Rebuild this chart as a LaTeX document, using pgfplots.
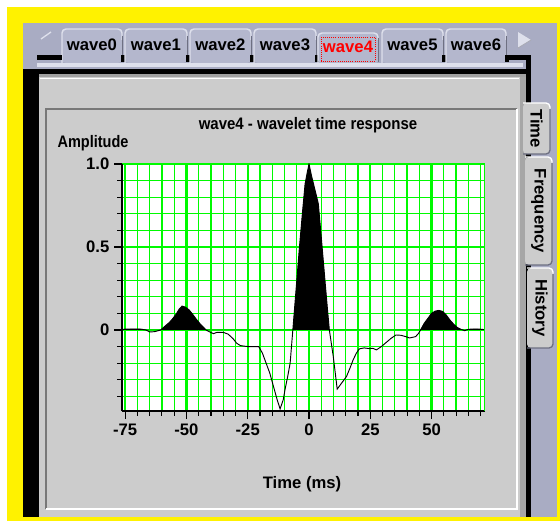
\documentclass[border=0pt]{standalone}
\usepackage{fontspec}
\setmainfont{Liberation Sans}
\usepackage{graphicx}
\usepackage{pgfplots}
\usepackage{pgfplotstable}
\pgfplotsset{compat=1.18}
\definecolor{outerblue}{RGB}{169,172,195}
\definecolor{tabblue}{RGB}{180,183,205}
\definecolor{tablight}{RGB}{222,224,236}
\definecolor{tabdark}{RGB}{110,112,130}
\definecolor{panelgrey}{RGB}{204,204,204}
\definecolor{framedark}{RGB}{120,120,120}
\definecolor{gridgreen}{RGB}{0,250,0}
\newcommand\fnt{\fontsize{12.5pt}{15pt}\selectfont\bfseries}
\newcommand\cond[2]{\scalebox{#1}[1]{#2}}

\pgfplotstableread{
x y
-76.3 0.004
-73 0.006
-69 0.006
-66.5 0.0
-65 -0.012
-63 -0.010
-60.5 0.0
-59 0.02
-57 0.045
-55.5 0.07
-54 0.10
-53 0.125
-51.8 0.144
-50.5 0.138
-49 0.122
-47.5 0.095
-46 0.065
-44.5 0.038
-43 0.015
-42 0.0
-40.5 -0.012
-39 -0.022
-37.5 -0.014
-35 -0.014
-33 -0.025
-31 -0.052
-29.5 -0.08
-28 -0.094
-25 -0.10
-20.5 -0.10
-19 -0.14
-17.5 -0.20
-16 -0.26
-14.5 -0.34
-13 -0.42
-11.8 -0.475
-10.5 -0.42
-9.8 -0.36
-8.7 -0.28
-7.7 -0.20
-6.6 0.0
-5.3 0.24
-3.9 0.50
-2.6 0.72
-1.6 0.88
-0.7 0.95
0 1.0
1 0.93
2 0.87
3 0.81
3.8 0.76
5 0.56
6.5 0.30
7.5 0.13
8.3 0.0
9.9 -0.16
10.8 -0.27
11.5 -0.356
12.3 -0.34
13.3 -0.32
15.3 -0.28
16.7 -0.23
18 -0.18
19.3 -0.14
20.5 -0.114
22.5 -0.108
24.5 -0.112
26 -0.11
27.5 -0.12
29.5 -0.10
31.5 -0.075
33.5 -0.05
35.5 -0.03
37.5 -0.032
39.5 -0.04
41 -0.048
43.5 -0.04
44.7 -0.02
45.5 0.0
47 0.04
48.5 0.07
50 0.10
51.5 0.114
53 0.118
54.5 0.112
56 0.09
57.5 0.06
59 0.035
60.5 0.015
62 0.004
63.5 -0.004
65 0.004
67 0.006
69 0.006
71.8 0.002
}\wave

\newcommand\toptab[3]{%
  \fill[tabblue, rounded corners=3pt] (#1,63) -- (#1,29) -- (#2,29) -- (#2,63) -- cycle;
  \draw[tablight, line width=1.1pt, rounded corners=3pt] (#1,63) -- (#1,29) -- (#2,29) -- (#2,40);
  \draw[tabdark, line width=0.75pt] (#2,36) -- (#2,62);
  \fill[black] (#2-1,55) rectangle (#2+3,62);
  \node[anchor=base, inner sep=0pt] at ({(#1+#2)/2},51) {\fnt #3};
}
\newcommand\sidetab[5]{%
  \fill[panelgrey, rounded corners=3pt] (#1,#3) -- (#2,#3) -- (#2,#4) -- (#1,#4) -- cycle;
  \draw[white, line width=1pt, rounded corners=3pt] (#1,#3) -- (#2,#3) -- (#2,#3+6);
  \draw[tabdark, line width=1pt, rounded corners=3pt] (#2,#3+6) -- (#2,#4) -- (#1,#4);
  \node[rotate=-90, inner sep=0pt] at ({(#1+#2)/2},{(#3+#4)/2}) {\fnt #5};
}

\begin{document}
\begin{tikzpicture}
\begin{scope}[x=0.75pt,y=-0.75pt,shift={(0,-521)}]
  % background and frames
  \fill[white] (0,0) rectangle (560,521);
  \fill[yellow] (7,7) rectangle (560,521);
  \fill[outerblue] (23,23) rectangle (557,517);
  % arrows
  \draw[tablight, line width=1pt] (41,39) -- (51,32);
  \fill[tablight] (518,32) -- (531,40) -- (518,48) -- cycle;
  \draw[tabdark!60, line width=0.6pt] (518,48) -- (531,40);
  % top tabs
  \toptab{62}{122}{wave0}
  \toptab{125}{187}{wave1}
  \toptab{190}{251}{wave2}
  \toptab{254}{316}{wave3}
  % selected tab
  \fill[tabblue, rounded corners=3pt] (318,64) -- (318,33) -- (378,33) -- (378,64) -- cycle;
  \draw[tablight, line width=1.1pt, rounded corners=3pt] (318,63) -- (318,33) -- (378,33) -- (378,40);
  \draw[tabdark, line width=0.75pt] (378,38) -- (378,62);
  \draw[red, densely dotted, line width=0.6pt] (321,37) rectangle (375,61);
  \node[anchor=base, inner sep=0pt] at (348,53) {\fnt\color{red}wave4};
  \toptab{382}{443}{wave5}
  \toptab{446}{506}{wave6}
  % tab baseline
  \fill[tablight] (37,63) rectangle (523,67);
  \fill[black] (37,55) rectangle (62,60);
  \fill[black] (506,55) rectangle (531,60);
  \fill[black] (23,69) rectangle (531,74);
  \fill[black] (526,55) rectangle (531,517);
  % panel
  \fill[black] (23,74) rectangle (39,517);
  \fill[panelgrey] (39,76) rectangle (526,517);
  \fill[framedark!70] (39,74) rectangle (526,77);
  \fill[gray!70] (520,77) rectangle (526,517);
  \draw[white, line width=0.75pt] (40,79) -- (519,79);
  % inner sunken frame
  \draw[framedark, line width=1.5pt] (46,509) -- (46,109) -- (517,109);
  \draw[white, line width=1.5pt] (517,109) -- (517,509) -- (46,509);
  % side tabs
  \sidetab{523}{550}{103}{154}{Time}
  \sidetab{525}{552}{157}{265}{Frequency}
  \sidetab{527}{553}{268}{348}{History}
  % texts
  \node[anchor=base, inner sep=0pt] at (308,130) {\fnt\cond{0.9}{wave4 - wavelet time response}};
  \node[anchor=base, inner sep=0pt] at (93,148) {\fnt\cond{0.87}{Amplitude}};
  \node[anchor=base, inner sep=0pt] at (302,489) {\fnt Time (ms)};
\end{scope}

\begin{axis}[
  at={(91.5pt,82.5pt)}, anchor=south west,
  width=272.25pt, height=185.25pt, scale only axis,
  xmin=-76.3, xmax=71.8, ymin=-0.488, ymax=1.0,
  axis x line*=bottom, axis y line*=left,
  axis line style={black, line width=1.2pt},
  axis background/.style={fill=white},
  xtick={-75,-50,-25,0,25,50},
  xticklabels={-75,-50,-25,0,25,50},
  minor xtick={-70,-65,-60,-55,-45,-40,-35,-30,-20,-15,-10,-5,5,10,15,20,30,35,40,45,55,60,65,70},
  ytick={0,0.5,1},
  yticklabels={0,0.5,1.0},
  minor ytick={-0.4,-0.3,-0.2,-0.1,0.1,0.2,0.3,0.4,0.6,0.7,0.8,0.9},
  tick align=outside,
  major tick length=6pt, minor tick length=3.5pt,
  tick style={black, line width=0.8pt},
  grid=both,
  major grid style={gridgreen, line width=1.6pt},
  minor grid style={gridgreen, line width=1pt},
  ticklabel style={font=\fnt},
  clip=true,
]
\addplot[fill=black, draw=none] table[x=x, y expr={max(\thisrow{y},0)}] {\wave} \closedcycle;
\addplot[black, line width=0.7pt] table[x=x, y=y] {\wave};
\draw[gridgreen, line width=1.6pt] (rel axis cs:1,0) -- (rel axis cs:1,1);
\end{axis}
\pgfresetboundingbox
\path (0,0) rectangle (420pt,390.75pt);
\end{tikzpicture}
\end{document}
